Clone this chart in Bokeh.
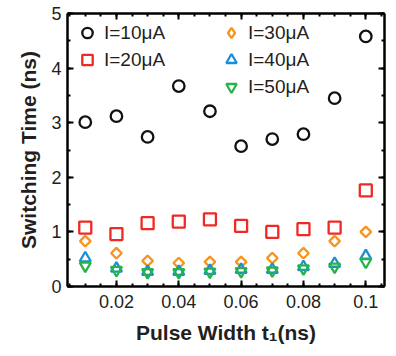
from bokeh.plotting import figure
from bokeh.models import (Range1d, LinearAxis, Legend, LegendItem, FixedTicker,
                          CustomLabelingPolicy, ColumnDataSource)
from bokeh.embed import file_html
from bokeh.resources import INLINE
import math

pulse_width = [0.01, 0.02, 0.03, 0.04, 0.05, 0.06, 0.07, 0.08, 0.09, 0.10]
t_10uA = [3.01, 3.12, 2.74, 3.67, 3.21, 2.57, 2.70, 2.79, 3.45, 4.58]
t_20uA = [1.08, 0.96, 1.16, 1.19, 1.23, 1.11, 1.00, 1.05, 1.08, 1.76]
t_30uA = [0.83, 0.61, 0.47, 0.43, 0.45, 0.45, 0.52, 0.61, 0.83, 1.00]
t_40uA = [0.52, 0.33, 0.27, 0.27, 0.29, 0.31, 0.31, 0.36, 0.42, 0.56]
t_50uA = [0.38, 0.30, 0.26, 0.26, 0.27, 0.28, 0.29, 0.33, 0.36, 0.45]
x_ticks = [0.02, 0.04, 0.06, 0.08, 0.10]
x_tick_labels = {0.02: "0.02", 0.04: "0.04", 0.06: "0.06", 0.08: "0.08", 0.1: "0.1"}
y_ticks = [0, 1, 2, 3, 4, 5]

FONT = "Liberation Sans"

p = figure(width=396, height=356, output_backend="svg", toolbar_location=None,
           x_range=Range1d(0.0043, 0.106), y_range=Range1d(0, 5),
           min_border_left=67, min_border_right=12, min_border_top=13, min_border_bottom=70)
p.grid.visible = False
p.outline_line_color = None
p.background_fill_color = "white"
p.border_fill_color = "white"
# an off-screen range used only for the legend key of the diamond series
p.extra_y_ranges = {"key": Range1d(100, 101)}

bottom_ax = p.below[0]
left_ax = p.left[0]
bottom_ax.axis_label = "Pulse Width t\u2081(ns)"
left_ax.axis_label = "Switching Time (ns)"

# add top and right axes (ticks only)
top_ax = LinearAxis()
right_ax = LinearAxis()
p.add_layout(top_ax, "above")
p.add_layout(right_ax, "right")

for ax in [bottom_ax, top_ax]:
    ax.ticker = FixedTicker(ticks=x_ticks, minor_ticks=[0.005 + 0.005 * i for i in range(21)])
for ax in [left_ax, right_ax]:
    ax.ticker = FixedTicker(ticks=y_ticks, minor_ticks=[0.5 * i for i in range(11)])

bottom_ax.major_label_overrides = x_tick_labels

for ax in [bottom_ax, left_ax, top_ax, right_ax]:
    ax.axis_line_width = 2.5
    ax.axis_line_color = "black"
    ax.major_tick_in = 6
    ax.major_tick_out = 0
    ax.minor_tick_in = 3
    ax.minor_tick_out = 0
    ax.major_tick_line_width = 2
    ax.minor_tick_line_width = 2
    ax.major_tick_line_color = "black"
    ax.minor_tick_line_color = "black"
    ax.major_label_text_font = FONT
    ax.major_label_text_font_size = "18px"
    ax.major_label_text_color = "#231f20"
    ax.axis_label_text_font = FONT
    ax.axis_label_text_font_style = "bold"
    ax.axis_label_text_font_size = "21px"
    ax.axis_label_text_color = "#231f20"

hide_labels = CustomLabelingPolicy(code="""
const n = indices.size;
for (let i = 0; i < n; i++) { indices.unset(i); }
return indices;
""")
for ax in [top_ax, right_ax]:
    ax.major_label_policy = hide_labels
    ax.major_label_standoff = 0
    ax.major_label_text_font_size = "1px"

bottom_ax.major_label_standoff = 8
bottom_ax.axis_label_standoff = 10
left_ax.major_label_standoff = 6
left_ax.axis_label_standoff = 8

src30 = ColumnDataSource(dict(x=pulse_width, y=t_30uA))

lw = 2.3
r10 = p.scatter(pulse_width, t_10uA, marker="circle", size=11.5, fill_color=None,
                line_color="#111111", line_width=lw)
r20 = p.scatter(pulse_width, t_20uA, marker="square", size=12, fill_color=None,
                line_color="#ee2a24", line_width=lw)
r30 = p.scatter("x", "y", source=src30, marker="square", angle=math.pi / 4, size=7.5,
                fill_color=None, line_color="#f7941d", line_width=lw)
# legend key only (points fall outside the visible frame)
r30_key = p.scatter("x", "y", source=src30, y_range_name="key",
                    marker="diamond", size=12, fill_color=None,
                    line_color="#f7941d", line_width=lw)
r40 = p.scatter(pulse_width, t_40uA, marker="triangle", size=11, fill_color=None,
                line_color="#1b8fd6", line_width=lw)
r50 = p.scatter(pulse_width, t_50uA, marker="inverted_triangle", size=11, fill_color=None,
                line_color="#26b34a", line_width=lw)

def make_legend(items, loc):
    lg = Legend(items=items, location=loc)
    lg.background_fill_alpha = 0
    lg.border_line_color = None
    lg.label_text_font = FONT
    lg.label_text_font_size = "19px"
    lg.label_text_color = "#231f20"
    lg.glyph_width = 26
    lg.glyph_height = 27
    lg.label_height = 27
    lg.label_standoff = 4
    lg.spacing = 0
    lg.padding = 0
    lg.margin = 0
    return lg

leg1 = make_legend([LegendItem(label="I=10\u03bcA", renderers=[r10]),
                    LegendItem(label="I=20\u03bcA", renderers=[r20])], (7, 213))
leg2 = make_legend([LegendItem(label="I=30\u03bcA", renderers=[r30_key]),
                    LegendItem(label="I=40\u03bcA", renderers=[r40]),
                    LegendItem(label="I=50\u03bcA", renderers=[r50])], (151, 186))
p.add_layout(leg1, "center")
p.add_layout(leg2, "center")

open("out.html", "w").write(file_html(p, INLINE))
